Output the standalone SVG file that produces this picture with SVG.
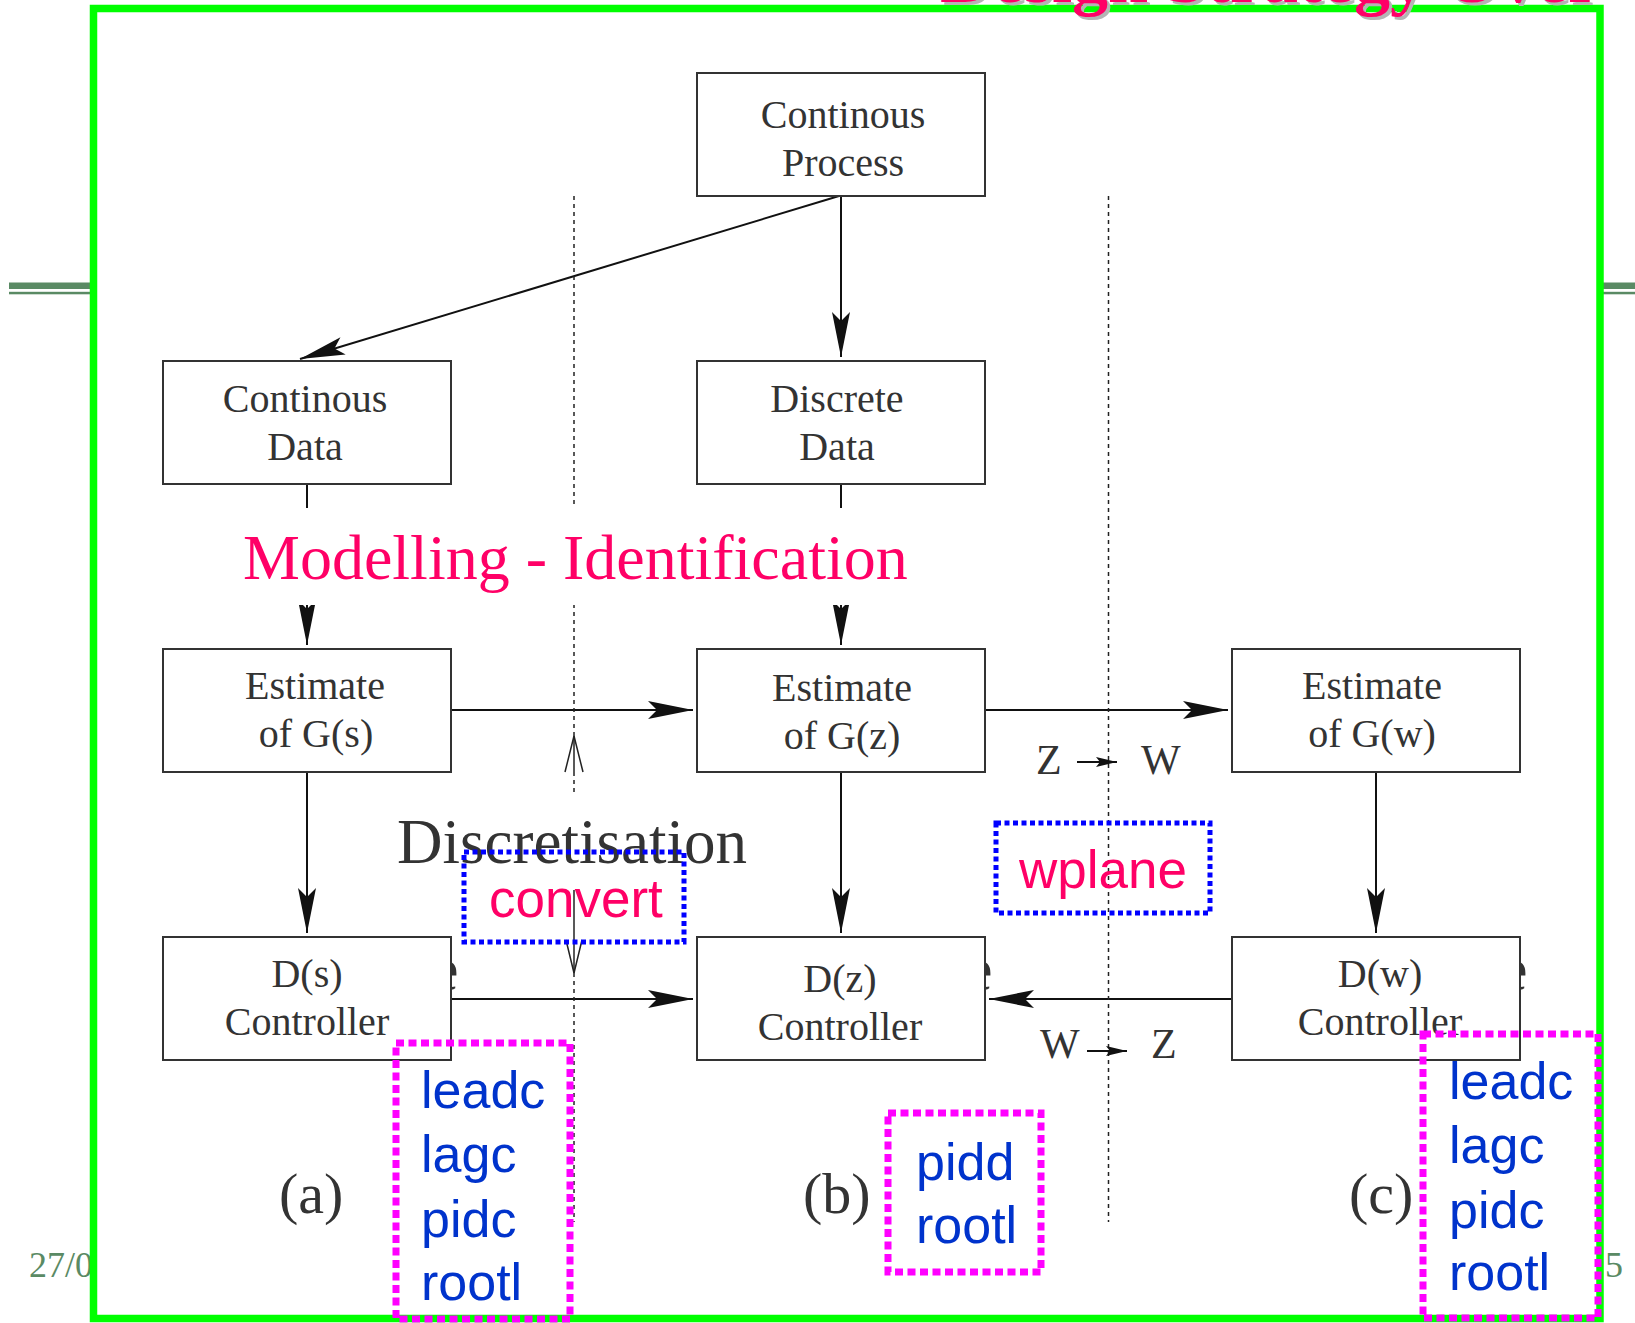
<svg xmlns="http://www.w3.org/2000/svg" width="1635" height="1323" viewBox="0 0 1635 1323">
<style>
.box{fill:#fff;stroke:#333;stroke-width:2}
.lbl{font-family:"Liberation Serif","Times New Roman",serif;font-size:40px;fill:#333;text-anchor:middle}
.big{font-family:"Liberation Serif","Times New Roman",serif;fill:#333}
.conn{stroke:#111;stroke-width:2;fill:none}
.dash{stroke:#222;stroke-width:1.5;stroke-dasharray:4 4;fill:none}
.pink{font-family:"Liberation Sans",Arial,sans-serif;font-size:53px;fill:#ff0066}
.blue{font-family:"Liberation Sans",Arial,sans-serif;font-size:52px;fill:#0033cc}
.bdot{fill:none;stroke:#0000ff;stroke-width:5;stroke-dasharray:5 3.5}
.mdot{fill:none;stroke:#ff00ff;stroke-width:7;stroke-dasharray:8 4.5}
.foot{font-family:"Liberation Serif","Times New Roman",serif;font-size:36px;fill:#5a8a64}
</style>
<defs>
<marker id="arr" markerUnits="userSpaceOnUse" markerWidth="46" markerHeight="20" viewBox="0 0 46 20" refX="45" refY="10" orient="auto"><path d="M0,1 L45,10 L0,19 L9,10 Z" fill="#111"/></marker>
<marker id="sarr" markerUnits="userSpaceOnUse" markerWidth="22" markerHeight="12" viewBox="0 0 22 12" refX="21" refY="6" orient="auto"><path d="M0,1 L21,6 L0,11 L4,6 Z" fill="#111"/></marker>
</defs>
<rect width="1635" height="1323" fill="#fff"/>
<g id="page-decor">
<rect x="9" y="282.5" width="82" height="6.5" fill="#5a8a64"/>
<rect x="9" y="291.8" width="82" height="2.5" fill="#5a8a64"/>
<rect x="1600" y="282.5" width="35" height="6.5" fill="#5a8a64"/>
<rect x="1600" y="291.8" width="35" height="2.5" fill="#5a8a64"/>
<text class="foot" x="29" y="1277">27/0</text>
<text class="foot" x="1605" y="1277">5</text>
<rect x="93.5" y="8.5" width="1506.5" height="1310" fill="none" stroke="#00ff00" stroke-width="7.5"/>
<text x="943" y="5" font-family="Liberation Serif,serif" font-weight="bold" font-size="72" fill="#b4b4b4">Design Strategy Over</text>
<text x="940" y="2" font-family="Liberation Serif,serif" font-weight="bold" font-size="72" fill="#ff0066">Design Strategy Over</text>
</g>
<g id="fragments" class="big" font-size="62">
<text x="431" y="990">e</text>
<text x="965" y="990">e</text>
<text x="1500" y="990">e</text>
</g>
<g id="connectors">
<line class="conn" x1="839" y1="196" x2="300" y2="359" marker-end="url(#arr)"/>
<line class="conn" x1="841" y1="196" x2="841" y2="357" marker-end="url(#arr)"/>
<line class="conn" x1="307" y1="484" x2="307" y2="645" marker-end="url(#arr)"/>
<line class="conn" x1="841" y1="484" x2="841" y2="645" marker-end="url(#arr)"/>
<line class="conn" x1="451" y1="710" x2="693" y2="710" marker-end="url(#arr)"/>
<line class="conn" x1="985" y1="710" x2="1228" y2="710" marker-end="url(#arr)"/>
<line class="conn" x1="307" y1="773" x2="307" y2="933" marker-end="url(#arr)"/>
<line class="conn" x1="841" y1="773" x2="841" y2="933" marker-end="url(#arr)"/>
<line class="conn" x1="1376" y1="773" x2="1376" y2="933" marker-end="url(#arr)"/>
<line class="conn" x1="451" y1="999" x2="693" y2="999" marker-end="url(#arr)"/>
<line class="conn" x1="1232" y1="999" x2="989" y2="999" marker-end="url(#arr)"/>
<line class="dash" x1="574" y1="196" x2="574" y2="736"/>
<line class="dash" x1="574" y1="772" x2="574" y2="794"/>
<line x1="574" y1="736" x2="574" y2="772" stroke="#222" stroke-width="1.5"/>
<polyline points="565,772 574,736 583,772" fill="none" stroke="#222" stroke-width="1.5"/>
<line x1="574" y1="890" x2="574" y2="973" stroke="#222" stroke-width="1.5"/>
<polyline points="566,940 574,973 582,940" fill="none" stroke="#222" stroke-width="1.5"/>
<line class="dash" x1="574" y1="973" x2="574" y2="1222"/>
<line class="dash" x1="1108.5" y1="196" x2="1108.5" y2="1222"/>
<line class="conn" x1="1077" y1="762" x2="1117" y2="762" marker-end="url(#sarr)"/>
<line class="conn" x1="1087" y1="1051" x2="1127" y2="1051" marker-end="url(#sarr)"/>
</g>
<g id="node-continous-process">
<rect class="box" x="697" y="73" width="288" height="123"/>
<text class="lbl" x="843" y="128">Continous</text>
<text class="lbl" x="843" y="176">Process</text>
</g>
<g id="node-continous-data">
<rect class="box" x="163" y="361" width="288" height="123"/>
<text class="lbl" x="305" y="412">Continous</text>
<text class="lbl" x="305" y="460">Data</text>
</g>
<g id="node-discrete-data">
<rect class="box" x="697" y="361" width="288" height="123"/>
<text class="lbl" x="837" y="412">Discrete</text>
<text class="lbl" x="837" y="460">Data</text>
</g>
<g id="node-estimate-gs">
<rect class="box" x="163" y="649" width="288" height="123"/>
<text class="lbl" x="315" y="699">Estimate</text>
<text class="lbl" x="316" y="747">of G(s)</text>
</g>
<g id="node-estimate-gz">
<rect class="box" x="697" y="649" width="288" height="123"/>
<text class="lbl" x="842" y="701">Estimate</text>
<text class="lbl" x="842" y="749">of G(z)</text>
</g>
<g id="node-estimate-gw">
<rect class="box" x="1232" y="649" width="288" height="123"/>
<text class="lbl" x="1372" y="699">Estimate</text>
<text class="lbl" x="1372" y="747">of G(w)</text>
</g>
<g id="node-ds">
<rect class="box" x="163" y="937" width="288" height="123"/>
<text class="lbl" x="307" y="987">D(s)</text>
<text class="lbl" x="307" y="1035">Controller</text>
</g>
<g id="node-dz">
<rect class="box" x="697" y="937" width="288" height="123"/>
<text class="lbl" x="840" y="992">D(z)</text>
<text class="lbl" x="840" y="1040">Controller</text>
</g>
<g id="node-dw">
<rect class="box" x="1232" y="937" width="288" height="123"/>
<text class="lbl" x="1380" y="987">D(w)</text>
<text class="lbl" x="1380" y="1035">Controller</text>
</g>
<g id="label-modelling">
<rect x="236" y="508" width="676" height="97" fill="#fff"/>
<text x="243" y="579" font-family="Liberation Serif,serif" font-size="64" fill="#ff0066">Modelling - Identification</text>
</g>
<g id="labels">
<text class="big" x="397" y="863" font-size="63">Discretisation</text>
<text class="big" x="1036" y="774" font-size="42" fill="#222">Z</text>
<text class="big" x="1141" y="774" font-size="42" fill="#222">W</text>
<text class="big" x="1040" y="1058" font-size="42" fill="#222">W</text>
<text class="big" x="1151" y="1058" font-size="42" fill="#222">Z</text>
<text class="big" x="279" y="1213" font-size="58" fill="#222">(a)</text>
<text class="big" x="803" y="1213" font-size="58" fill="#222">(b)</text>
<text class="big" x="1349" y="1213" font-size="58" fill="#222">(c)</text>
</g>
<g id="note-convert">
<rect class="bdot" x="464" y="852" width="220" height="90"/>
<text class="pink" x="489" y="917">convert</text>
</g>
<g id="note-wplane">
<rect class="bdot" x="996" y="823" width="214" height="90"/>
<text class="pink" x="1019" y="888">wplane</text>
</g>
<g id="note-a">
<rect class="mdot" x="396" y="1043" width="174" height="276"/>
<text class="blue" x="421" y="1108">leadc</text>
<text class="blue" x="421" y="1172">lagc</text>
<text class="blue" x="421" y="1237">pidc</text>
<text class="blue" x="421" y="1300">rootl</text>
</g>
<g id="note-b">
<rect class="mdot" x="888" y="1113" width="153" height="159"/>
<text class="blue" x="916" y="1180">pidd</text>
<text class="blue" x="916" y="1243">rootl</text>
</g>
<g id="note-c">
<rect class="mdot" x="1423" y="1034" width="175" height="284"/>
<text class="blue" x="1449" y="1099">leadc</text>
<text class="blue" x="1449" y="1163">lagc</text>
<text class="blue" x="1449" y="1228">pidc</text>
<text class="blue" x="1449" y="1290">rootl</text>
</g>
</svg>
